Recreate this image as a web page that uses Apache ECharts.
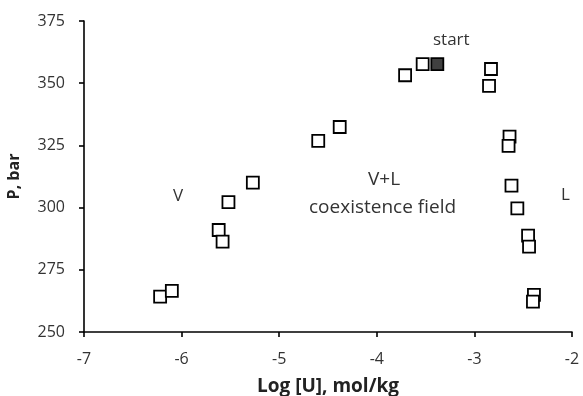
<!DOCTYPE html>
<html>
<head>
<meta charset="utf-8">
<script src="https://cdn.jsdelivr.net/npm/echarts@6/dist/echarts.min.js"></script>
<style>
  html, body { margin: 0; padding: 0; background: #fff; }
  #chart { width: 583px; height: 396px; }
</style>
</head>
<body>
<div id="chart"></div>
<script>
// open squares: [log U, P]
const logU = [-6.22, -6.10, -5.62, -5.58, -5.52, -5.27, -4.60, -4.38, -3.71, -3.53,
  -2.83, -2.85, -2.64, -2.65, -2.62, -2.56, -2.45, -2.44, -2.39, -2.40];
const pressure = [264.2, 266.5, 291, 286.3, 302.2, 310, 326.8, 332.4, 353.2, 357.7,
  355.7, 348.9, 328.5, 324.8, 308.8, 299.7, 288.7, 284.3, 264.9, 262.2];
// filled "start" square
const startPoint = [-3.38, 357.7];

const xTicks = { min: -7, max: -2, interval: 1 };
const yTicks = { min: 250, max: 375, interval: 25 };

const FONT = "Open Sans";
const chart = echarts.init(document.getElementById("chart"), null, { renderer: "canvas" });

const axisCommon = {
  axisLine: { show: true, onZero: false, lineStyle: { color: "#000", width: 1.6 } },
  axisTick: { show: true, inside: false, length: 5, lineStyle: { color: "#000", width: 1.6 } },
  splitLine: { show: false },
  axisLabel: { color: "#333", fontSize: 16, fontFamily: FONT },
};

const note = (text, left, top, size) => ({
  type: "text", left, top,
  style: { text, fontSize: size, fontFamily: FONT, fill: "#333" },
});

chart.setOption({
  animation: false,
  backgroundColor: "#fff",
  grid: { left: 84, right: 11, top: 21, bottom: 64, containLabel: false, outerBoundsMode: "none" },
  xAxis: {
    type: "value",
    ...xTicks,
    ...axisCommon,
    axisLabel: { ...axisCommon.axisLabel, margin: 19 },
    name: "Log [U], mol/kg",
    nameLocation: "middle",
    nameGap: 45,
    nameTextStyle: { color: "#222", fontSize: 19, fontWeight: "bold", fontFamily: FONT },
  },
  yAxis: {
    type: "value",
    ...yTicks,
    ...axisCommon,
    axisLabel: { ...axisCommon.axisLabel, margin: 19 },
    name: "P, bar",
    nameLocation: "middle",
    nameGap: 62,
    nameTextStyle: { color: "#222", fontSize: 16, fontWeight: "bold", fontFamily: FONT },
  },
  series: [
    {
      type: "scatter",
      symbol: "rect",
      symbolSize: 12,
      itemStyle: { color: "#fff", borderColor: "#000", borderWidth: 1.8, opacity: 1 },
      data: logU.map((x, i) => [x, pressure[i]]),
      z: 2,
    },
    {
      type: "scatter",
      symbol: "rect",
      symbolSize: 12,
      itemStyle: { color: "#404040", borderColor: "#000", borderWidth: 1.8, opacity: 1 },
      data: [startPoint],
      z: 3,
    },
  ],
  graphic: [
    note("start", 433, 32, 17),
    note("V", 173, 188, 17),
    note("V+L", 368, 170, 19),
    note("coexistence field", 309, 198, 19),
    note("L", 561, 187, 17),
  ],
});
</script>
</body>
</html>
